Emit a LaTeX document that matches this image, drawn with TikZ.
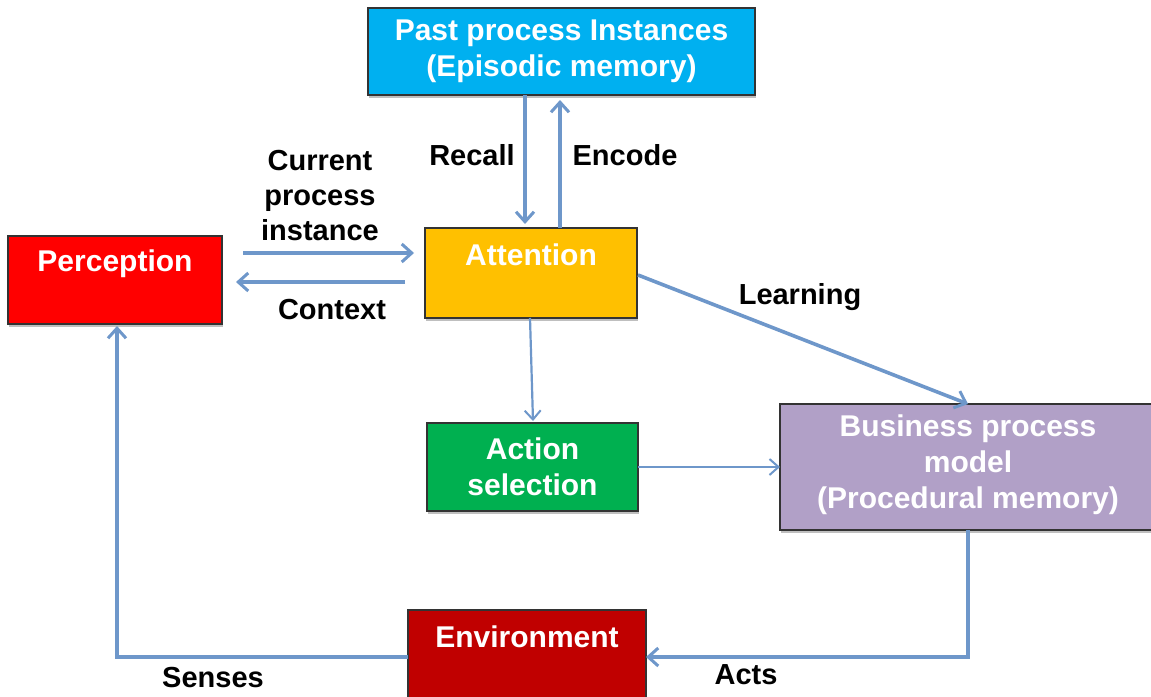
\documentclass[tikz,border=0pt]{standalone}
\usepackage{fontspec}
\setmainfont{Liberation Sans}
\usetikzlibrary{arrows.meta,shadows}
\definecolor{arr}{HTML}{6E97CA}
\definecolor{cpast}{HTML}{00B0F0}
\definecolor{cperc}{HTML}{FF0000}
\definecolor{catt}{HTML}{FFC000}
\definecolor{cact}{HTML}{00B050}
\definecolor{cbus}{HTML}{B1A0C7}
\definecolor{cenv}{HTML}{C00000}
\tikzset{
  box/.style={draw=black!80, line width=2pt, drop shadow={shadow xshift=1pt, shadow yshift=-3pt, opacity=0.5}},
  boxtext/.style={text=white, font=\fontsize{30}{36}\selectfont\bfseries, align=center, inner sep=0pt},
  lbl/.style={text=black, font=\fontsize{29}{35}\selectfont\bfseries, align=center, inner sep=0pt},
  conn/.style={draw=arr, line width=3.6pt, -{Straight Barb[length=10pt,width=18pt,line width=3pt]}},
  thinconn/.style={draw=arr, line width=2.2pt, -{Straight Barb[length=9pt,width=16pt,line width=2pt]}},
}
\begin{document}
\begin{tikzpicture}[x=1pt,y=-1pt]
\useasboundingbox (0,0) rectangle (1151,696);
\clip (0,0) rectangle (1151,696);
\fill[white] (0,0) rectangle (1151,696);
% boxes
\node[box, fill=cpast, minimum width=387pt, minimum height=87pt, inner sep=0pt] (past) at (561.5,51.5) {};
\node[box, fill=cperc, minimum width=214pt, minimum height=88pt, inner sep=0pt] (perc) at (115,280) {};
\node[box, fill=catt, minimum width=212pt, minimum height=90pt, inner sep=0pt] (att) at (531,273) {};
\node[box, fill=cact, minimum width=211pt, minimum height=88pt, inner sep=0pt] (act) at (532.5,467) {};
\node[box, fill=cbus, minimum width=380pt, minimum height=126pt, inner sep=0pt] (bus) at (970,467) {};
\node[box, fill=cenv, minimum width=238pt, minimum height=100pt, inner sep=0pt] (env) at (527,660) {};
% box texts
\node[boxtext] (pastT) at (past.center) {Past process Instances\\(Episodic memory)};
\node[boxtext, anchor=base] (percT) at (115,271) {Perception};
\node[boxtext, anchor=base] (attT) at (531,265) {Attention};
\node[boxtext] (actT) at (act.center) {Action\\selection};
\node[boxtext] (busT) at (968,465) {Business process\\model\\(Procedural memory)};
\node[boxtext, anchor=base] (envT) at (527,647) {Environment};
% connector anchors
\coordinate (recS) at (525,95);
\coordinate (recE) at (525,224);
\coordinate (encS) at (560,228);
\coordinate (encE) at (560,100);
\coordinate (curS) at (243,253);
\coordinate (curE) at (414,253);
\coordinate (ctxS) at (405,282);
\coordinate (ctxE) at (236,282);
\coordinate (lrnS) at (638,275);
\coordinate (lrnE) at (968,404);
\coordinate (aS) at (530,318);
\coordinate (aE) at (533,421);
\coordinate (asS) at (638,467);
\coordinate (asE) at (780,467);
\coordinate (bS) at (968,530);
\coordinate (bC) at (968,657);
\coordinate (bE) at (646,657);
\coordinate (eS) at (408,657);
\coordinate (eC) at (117,657);
\coordinate (eE) at (117,326);
% connectors
\draw[conn] (recS) -- (recE);
\draw[conn] (encS) -- (encE);
\draw[conn] (curS) -- (curE);
\draw[conn] (ctxS) -- (ctxE);
\draw[conn] (lrnS) -- (lrnE);
\draw[thinconn] (aS) -- (aE);
\draw[thinconn] (asS) -- (asE);
\draw[conn] (bS) -- (bC) -- (bE);
\draw[conn] (eS) -- (eC) -- (eE);
% labels
\node[lbl] (lRecall) at (472,155) {Recall};
\node[lbl] (lEncode) at (625,155) {Encode};
\node[lbl] (lCur) at (320,196) {Current\\process\\instance};
\node[lbl] (lCtx) at (332,310) {Context};
\node[lbl] (lLrn) at (800,297) {Learning};
\node[lbl] (lActs) at (746,675) {Acts};
\node[lbl] (lSen) at (213,678) {Senses};
\end{tikzpicture}
\end{document}
